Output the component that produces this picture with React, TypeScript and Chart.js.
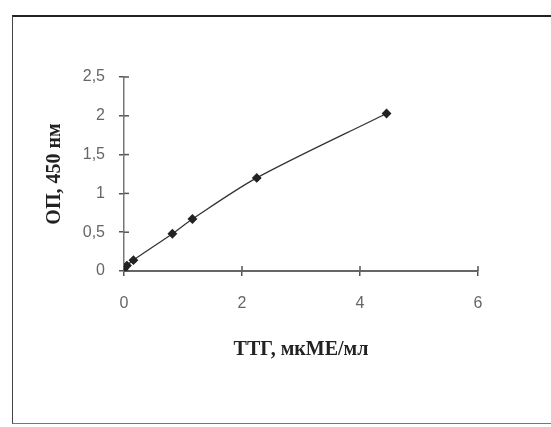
import React, { useEffect, useRef } from "react";
import { Chart, registerables } from "chart.js";

Chart.register(...registerables);

const concentrations = [0, 0.05, 0.16, 0.82, 1.16, 2.25, 4.45];
const opticalDensity = [0.03, 0.07, 0.14, 0.48, 0.67, 1.2, 2.03];
const xTicks = [0, 2, 4, 6];
const yTicks = [0, 0.5, 1, 1.5, 2, 2.5];
const xTitle = "ТТГ, мкМЕ/мл";
const yTitle = "ОП, 450 нм";

const fmt = (v: number) => String(v).replace(".", ",");

const innerTicks = {
  id: "innerTicks",
  beforeDatasetsDraw(chart: any) {
    const { ctx, chartArea, scales } = chart;
    ctx.save();
    ctx.strokeStyle = "#555";
    ctx.lineWidth = 1.5;
    scales.x.ticks.forEach((t: any) => {
      const px = scales.x.getPixelForValue(t.value);
      ctx.beginPath();
      ctx.moveTo(px, chartArea.bottom);
      ctx.lineTo(px, chartArea.bottom - 5);
      ctx.stroke();
    });
    scales.y.ticks.forEach((t: any) => {
      const py = scales.y.getPixelForValue(t.value);
      ctx.beginPath();
      ctx.moveTo(chartArea.left, py);
      ctx.lineTo(chartArea.left + 5, py);
      ctx.stroke();
    });
    ctx.restore();
  },
};

export default function App() {
  const ref = useRef<HTMLCanvasElement>(null);
  useEffect(() => {
    if (!ref.current) return;
    const chart = new Chart(ref.current, {
      type: "scatter",
      data: {
        datasets: [
          {
            data: concentrations.map((x, i) => ({ x, y: opticalDensity[i] })),
            showLine: true,
            tension: 0.3,
            borderColor: "#333",
            borderWidth: 1.3,
            pointStyle: "rectRot",
            pointRadius: 4,
            pointBackgroundColor: "#222",
            pointBorderColor: "#222",
          },
        ],
      },
      options: {
        animation: false,
        responsive: false,
        layout: { padding: { left: 43, top: 77, right: 73, bottom: 65 } },
        plugins: { legend: { display: false }, tooltip: { enabled: false } },
        scales: {
          x: {
            type: "linear",
            min: 0,
            max: 6,
            afterFit: (s: any) => {
              s.height = 91;
            },
            afterBuildTicks: (s: any) => {
              s.ticks = xTicks.map((value) => ({ value }));
            },
            ticks: {
              callback: (v: any) => fmt(v),
              color: "#666",
              padding: 18,
              maxRotation: 0,
              font: { family: "'Liberation Sans', Arial, sans-serif", size: 16 },
            },
            grid: {
              display: true,
              drawOnChartArea: false,
              drawTicks: true,
              tickLength: 5,
              color: "#555",
              lineWidth: 1.5,
            },
            border: { display: true, color: "#666", width: 2 },
            title: {
              display: true,
              text: xTitle,
              color: "#222",
              padding: 0,
              font: { family: "'Liberation Serif', 'Times New Roman', serif", size: 20, weight: "bold" },
            },
          },
          y: {
            type: "linear",
            min: 0,
            max: 2.5,
            afterFit: (s: any) => {
              s.width = 81;
            },
            afterBuildTicks: (s: any) => {
              s.ticks = yTicks.map((value) => ({ value }));
            },
            ticks: {
              callback: (v: any) => fmt(v),
              color: "#666",
              padding: 14,
              font: { family: "'Liberation Sans', Arial, sans-serif", size: 16 },
            },
            grid: {
              display: true,
              drawOnChartArea: false,
              drawTicks: true,
              tickLength: 5,
              color: "#555",
              lineWidth: 1.5,
            },
            border: { display: true, color: "#777", width: 1.5 },
            title: {
              display: true,
              text: yTitle,
              color: "#222",
              padding: 0,
              font: { family: "'Liberation Serif', 'Times New Roman', serif", size: 20, weight: "bold" },
            },
          },
        },
      },
      plugins: [innerTicks],
    });
    return () => chart.destroy();
  }, []);

  return (
    <div style={{ position: "fixed", left: 0, top: 0, width: 551, height: 427, background: "#fff" }}>
      <div
        style={{
          position: "absolute",
          left: 12,
          top: 15,
          width: 545,
          height: 409,
          borderTop: "2px solid #222",
          borderLeft: "1.5px solid #444",
          borderBottom: "1px solid #777",
          boxSizing: "border-box",
        }}
      />
      <canvas ref={ref} width={551} height={427} style={{ position: "absolute", left: 0, top: 0 }} />
    </div>
  );
}
